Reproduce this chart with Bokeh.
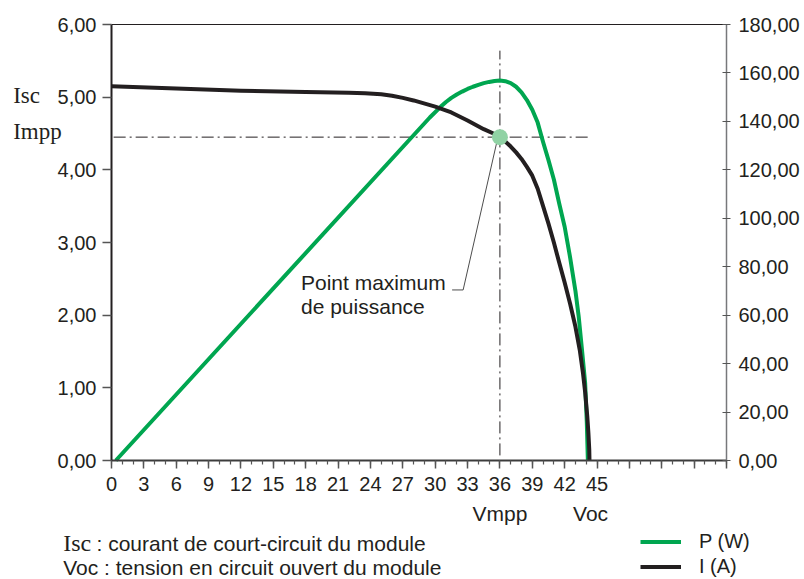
from bokeh.plotting import figure
from bokeh.models import (Range1d, LinearAxis, FixedTicker, Label, Legend, LegendItem)
from bokeh.embed import file_html
from bokeh.resources import INLINE

# ---------------- data ----------------
V_P = [0.4, 29.5, 30.5, 31.0, 31.5, 32.0, 32.5, 33.0, 33.5, 34.0, 34.5, 35.0, 35.5, 36.0,
       36.5, 37.0, 37.5, 38.0, 38.5, 39.0, 39.5, 40.0, 40.5, 41.0, 41.5, 42.0, 42.5,
       43.0, 43.3, 43.6, 43.9, 44.05, 44.15]
P_W = [0.0, 141.6, 146.0, 148.0, 149.7, 151.1, 152.3, 153.4, 154.3, 155.1, 155.8, 156.3,
       156.7, 156.9, 156.6, 155.8, 154.3, 152.0, 148.8, 144.8, 139.5, 131.5, 124.0, 116.0,
       106.0, 96.5, 84.0, 70.0, 59.5, 46.0, 31.9, 16.0, 0.0]

V_I = [0, 6, 12, 18, 22, 23.5, 25, 26, 27, 28, 30, 31.5, 33, 34.5, 35.4, 36.0, 36.5, 37.0,
       37.5, 38.0, 38.5, 39.0, 39.5, 40.0, 40.5, 41.0, 41.5, 42.0, 42.5, 43.0, 43.4, 43.7,
       43.9, 44.1, 44.2, 44.28, 44.3]
I_A = [5.15, 5.12, 5.09, 5.07, 5.062, 5.055, 5.04, 5.02, 4.99, 4.955, 4.87, 4.79, 4.68,
       4.56, 4.50, 4.45, 4.39, 4.32, 4.24, 4.15, 4.04, 3.92, 3.74, 3.50, 3.26, 3.00, 2.72,
       2.45, 2.16, 1.84, 1.52, 1.20, 0.94, 0.60, 0.38, 0.15, 0.0]

V_MPP = 36.0
I_MPP = 4.45
V_OC = 44.4

X_TICKS = list(range(0, 58, 3))
X_MINOR = list(range(0, 58))
X_LABELS = ["0", "3", "6", "9", "12", "15", "18", "21", "24", "27", "30", "33", "36",
            "39", "42", "45"]
Y_TICKS = [0, 1, 2, 3, 4, 5, 6]
Y_LABELS = ["0,00", "1,00", "2,00", "3,00", "4,00", "5,00", "6,00"]
P_TICKS = [0, 20, 40, 60, 80, 100, 120, 140, 160, 180]
P_LABELS = ["0,00", "20,00", "40,00", "60,00", "80,00", "100,00", "120,00", "140,00",
            "160,00", "180,00"]

LEADER_V = [31.57, 32.59, 35.74]
LEADER_I = [2.347, 2.347, 4.40]

GREEN = "#00a650"
BLACK = "#231f20"
SANS = "Liberation Sans"
SERIF = "Liberation Serif"

# ---------------- geometry (pixels) ----------------
W, H = 800, 579
X0, Y0 = 111, 460                 # pixel position of V=0 and I=0
SX, SY = 615 / 57, 436 / 6        # pixels per V and per A

p = figure(width=W, height=H, output_backend="svg", toolbar_location=None,
           x_range=Range1d(-X0 / SX, (W - X0) / SX),
           y_range=Range1d(-(H - Y0) / SY, Y0 / SY),
           min_border=0, min_border_left=0, min_border_right=0,
           min_border_top=0, min_border_bottom=0,
           x_axis_type=None, y_axis_type=None,
           background_fill_color="white", border_fill_color="white",
           outline_line_color=None)
p.extra_y_ranges = {"p": Range1d(-(H - Y0) / SY * 30, Y0 / SY * 30)}
p.grid.visible = False


def style(ax, size="20px"):
    ax.major_label_text_font = SANS
    ax.major_label_text_font_size = size
    ax.major_label_text_color = BLACK


# x axis
xa = LinearAxis(fixed_location=0, bounds=(0, 57),
                ticker=FixedTicker(ticks=X_TICKS, minor_ticks=X_MINOR))
xa.major_label_overrides = {t: (X_LABELS[i] if i < len(X_LABELS) else "")
                            for i, t in enumerate(X_TICKS)}
xa.axis_line_color = "#3c3c3c"
xa.axis_line_width = 2
xa.major_tick_line_color = "#555555"
xa.minor_tick_line_color = "#555555"
xa.major_tick_line_width = 1.5
xa.minor_tick_line_width = 1.2
xa.major_tick_in = 0
xa.major_tick_out = 8
xa.minor_tick_in = 0
xa.minor_tick_out = 4
xa.major_label_standoff = 8
style(xa)
p.add_layout(xa, "below")

# top border line
ta = LinearAxis(fixed_location=6, bounds=(0, 57), ticker=FixedTicker(ticks=[]))
ta.axis_line_color = BLACK
ta.axis_line_width = 1
ta.major_tick_line_color = None
ta.minor_tick_line_color = None
ta.major_label_text_font_size = "0px"
p.add_layout(ta, "above")

# left axis
ya = LinearAxis(fixed_location=0, bounds=(0, 6), ticker=FixedTicker(ticks=Y_TICKS))
ya.major_label_overrides = dict(zip(Y_TICKS, Y_LABELS))
ya.axis_line_color = BLACK
ya.axis_line_width = 2
ya.major_tick_line_color = "#555555"
ya.major_tick_line_width = 1.5
ya.minor_tick_line_color = None
ya.major_tick_in = 0
ya.major_tick_out = 9
ya.major_label_standoff = 6
style(ya)
p.add_layout(ya, "left")

# right axis (power)
ra = LinearAxis(y_range_name="p", fixed_location=57, bounds=(0, 180),
                ticker=FixedTicker(ticks=P_TICKS))
ra.major_label_overrides = dict(zip(P_TICKS, P_LABELS))
ra.axis_line_color = "#77787b"
ra.axis_line_width = 1.5
ra.major_tick_line_color = "#555555"
ra.major_tick_line_width = 1.2
ra.minor_tick_line_color = None
ra.major_tick_in = 4
ra.major_tick_out = 4
ra.major_label_standoff = 8
style(ra)
p.add_layout(ra, "right")

# reference dash-dot lines
p.line([0.2, V_OC + 0.1], [I_MPP, I_MPP], line_color=BLACK, line_width=1,
       line_dash="12 4 2 4")
p.line([V_MPP, V_MPP], [0.07, 5.64], line_color=BLACK, line_width=1,
       line_dash="12 4 2 4")

# curves
r_p = p.line(V_P, P_W, y_range_name="p", line_color=GREEN, line_width=4,
             line_join="round")
r_i = p.line(V_I, I_A, line_color=BLACK, line_width=4, line_join="round")

# leader line and MPP marker
p.line(LEADER_V, LEADER_I, line_color="#4d4d4d", line_width=1)
p.scatter([V_MPP], [I_MPP], size=16, fill_color="#90d2a4", line_color=None)


# texts (x in pixels from the left, y = vertical centre in pixels from the top)
def lab(x, y_mid, text, font=SANS, size="21px", align="left", x_units="screen"):
    p.add_layout(Label(x=x, y=H - y_mid, x_units=x_units, y_units="screen",
                       text=text, text_font=font, text_font_size=size,
                       text_color=BLACK, text_align=align,
                       text_baseline="middle"))


lab(300.5, 281.5, "Point maximum")
lab(300.5, 305.5, "de puissance")
lab(12.7, 95, "Isc", font=SERIF, size="23px")
lab(12.7, 130.5, "Impp", font=SERIF, size="23px")
lab(V_MPP, 512.5, "Vmpp", align="center", x_units="data")
lab(V_OC, 512.5, "Voc", align="center", x_units="data")
lab(62.7, 542.5, "Isc", font=SERIF, size="24px")
lab(96, 542.5, ": courant de court-circuit du module")
lab(62.7, 567, "Voc : tension en circuit ouvert du module")

legend = Legend(items=[LegendItem(label="P (W)", renderers=[r_p]),
                       LegendItem(label="I (A)", renderers=[r_i])],
                location=(640, 0), glyph_width=41, glyph_height=25,
                label_height=25, label_standoff=18, spacing=0, padding=0, margin=0,
                border_line_color=None, background_fill_alpha=0,
                label_text_font=SANS, label_text_font_size="20px",
                label_text_color=BLACK)
p.add_layout(legend)

open("out.html", "w").write(file_html(p, INLINE))
